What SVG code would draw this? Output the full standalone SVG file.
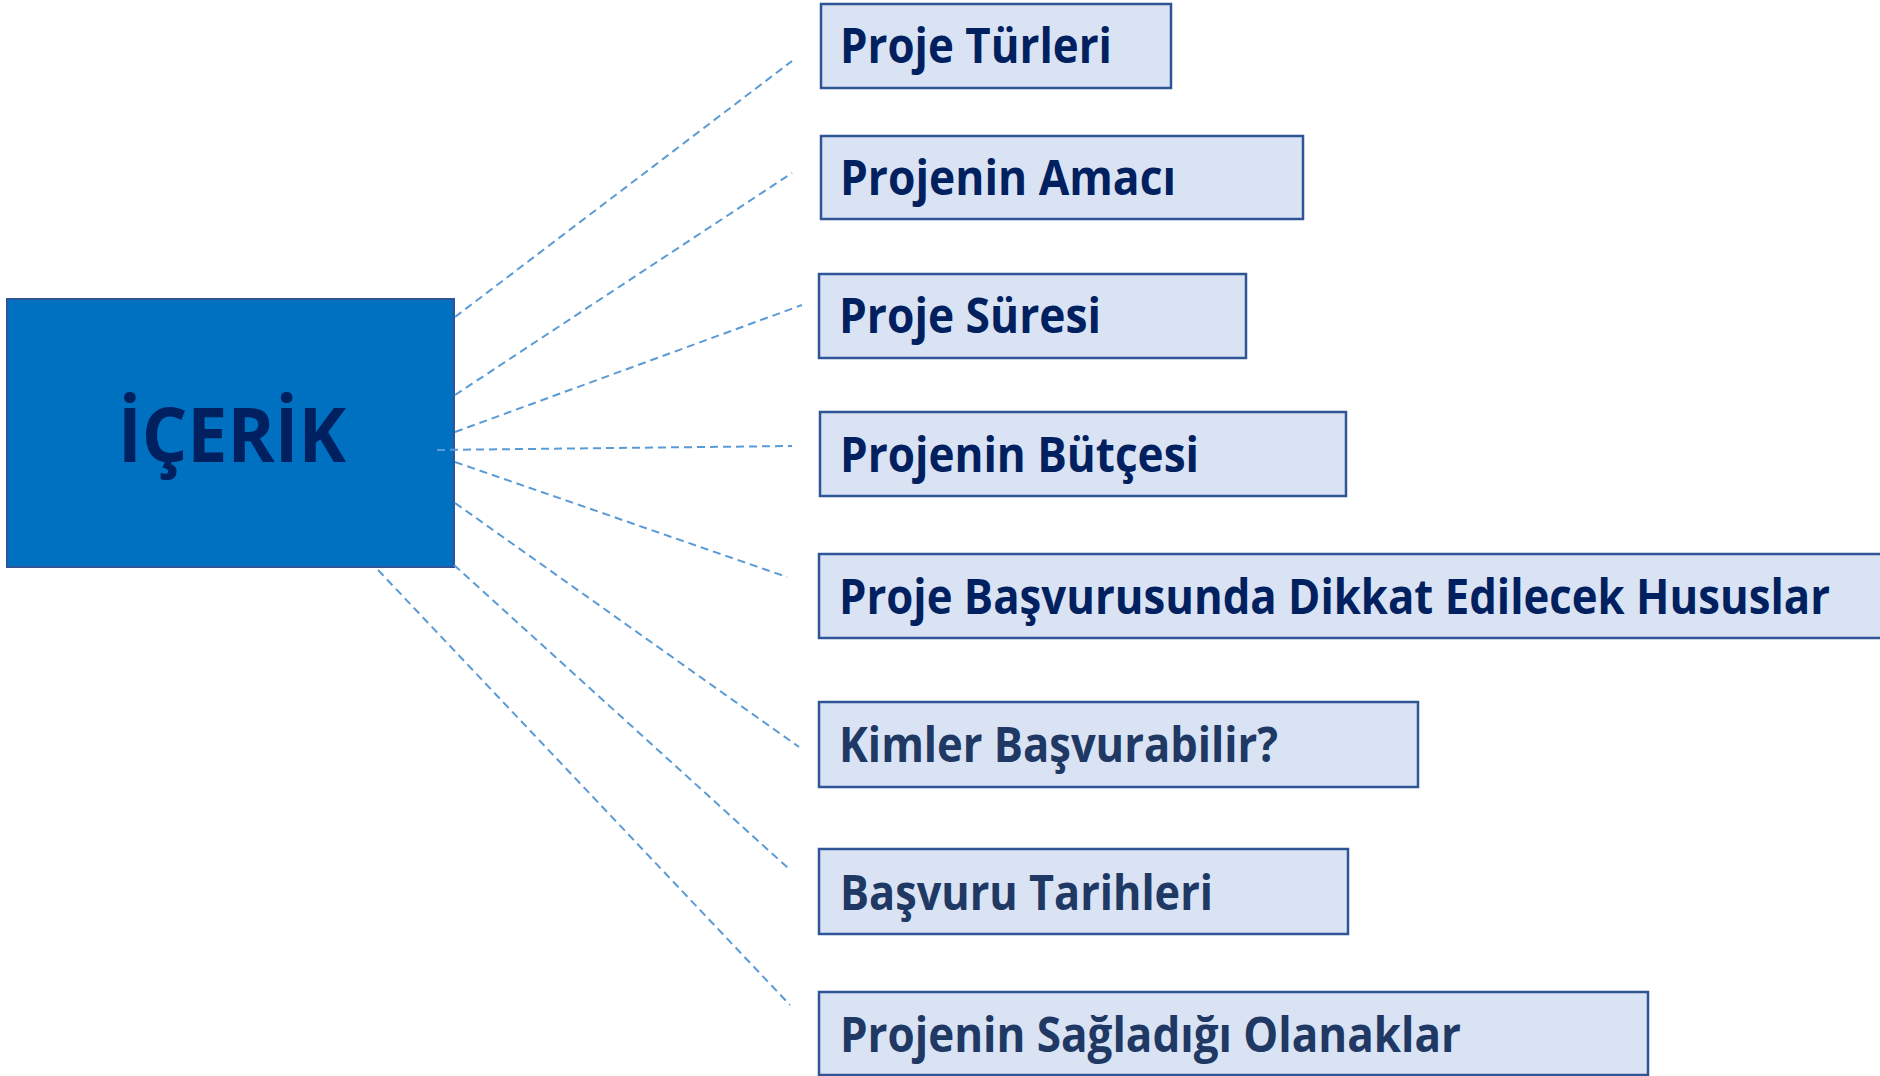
<svg xmlns="http://www.w3.org/2000/svg" width="1880" height="1076" viewBox="0 0 1880 1076">
<style>
.bg{fill:#ffffff}
.hub{fill:#0070C0;stroke:#2F5597;stroke-width:2}
.box{fill:#DAE3F3;stroke:#2F5597;stroke-width:2.5}
.t{font-family:"Open Sans","Noto Sans",sans-serif;font-weight:700;font-size:49px;fill:#002060}
.t2{fill:#203864}
.hubt{font-family:"Open Sans","Noto Sans",sans-serif;font-weight:700;font-size:76px;fill:#002060}
.c{stroke:#5B9BD5;stroke-width:2;stroke-dasharray:8 5;fill:none}
</style>
<rect class="bg" x="0" y="0" width="1880" height="1076"/>
<g id="hub">
<rect class="hub" x="7" y="299" width="447" height="268"/>
<text class="hubt" x="118" y="462" textLength="228" lengthAdjust="spacingAndGlyphs">İÇERİK</text>
</g>
<g id="connectors">
<line class="c" x1="455" y1="317" x2="792" y2="61"/>
<line class="c" x1="455" y1="395" x2="792" y2="173"/>
<line class="c" x1="455" y1="432" x2="802" y2="305"/>
<line class="c" x1="437" y1="450" x2="792" y2="446"/>
<line class="c" x1="455" y1="462" x2="787" y2="577"/>
<line class="c" x1="455" y1="503" x2="799" y2="747"/>
<line class="c" x1="454" y1="565" x2="788" y2="868"/>
<line class="c" x1="378" y1="570" x2="790" y2="1005"/>
</g>
<g id="n1">
<rect class="box" x="821" y="4" width="350" height="84"/>
<text class="t" x="840" y="63" textLength="272" lengthAdjust="spacingAndGlyphs">Proje Türleri</text>
</g>
<g id="n2">
<rect class="box" x="821" y="136" width="482" height="83"/>
<text class="t" x="840" y="195" textLength="336" lengthAdjust="spacingAndGlyphs">Projenin Amacı</text>
</g>
<g id="n3">
<rect class="box" x="819" y="274" width="427" height="84"/>
<text class="t" x="839" y="333" textLength="262" lengthAdjust="spacingAndGlyphs">Proje Süresi</text>
</g>
<g id="n4">
<rect class="box" x="820" y="412" width="526" height="84"/>
<text class="t" x="840" y="472" textLength="359" lengthAdjust="spacingAndGlyphs">Projenin Bütçesi</text>
</g>
<g id="n5">
<rect class="box" x="819" y="554" width="1080" height="84"/>
<text class="t" x="839" y="614" textLength="991" lengthAdjust="spacingAndGlyphs">Proje Başvurusunda Dikkat Edilecek Hususlar</text>
</g>
<g id="n6">
<rect class="box" x="819" y="702" width="599" height="85"/>
<text class="t t2" x="839" y="762" textLength="439" lengthAdjust="spacingAndGlyphs">Kimler Başvurabilir?</text>
</g>
<g id="n7">
<rect class="box" x="819" y="849" width="529" height="85"/>
<text class="t t2" x="840" y="910" textLength="373" lengthAdjust="spacingAndGlyphs">Başvuru Tarihleri</text>
</g>
<g id="n8">
<rect class="box" x="819" y="992" width="829" height="83"/>
<text class="t t2" x="840" y="1052" textLength="621" lengthAdjust="spacingAndGlyphs">Projenin Sağladığı Olanaklar</text>
</g>
</svg>
